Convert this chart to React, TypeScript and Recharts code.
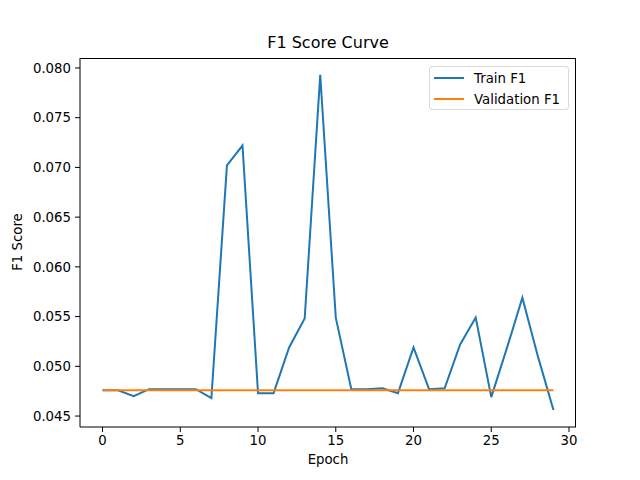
import { LineChart, Line, XAxis, YAxis } from "recharts";

const epochs = Array.from({ length: 30 }, (_, i) => i);

const trainF1 = [
  0.0476, 0.0476, 0.0470, 0.0477, 0.0477, 0.0477, 0.0477, 0.0468, 0.0702, 0.0722,
  0.0473, 0.0473, 0.0519, 0.0548, 0.0793, 0.0549, 0.0477, 0.0477, 0.0478, 0.0473,
  0.0519, 0.0477, 0.0478, 0.0522, 0.0549, 0.0469, 0.0518, 0.0569, 0.0510, 0.0456,
];

const valF1 = Array(30).fill(0.0476);

const xTicks = [0, 5, 10, 15, 20, 25, 30];
const yTicks = [0.045, 0.05, 0.055, 0.06, 0.065, 0.07, 0.075, 0.08];

const data = epochs.map((e, i) => ({ epoch: e, train: trainF1[i], val: valF1[i] }));

const FONT = "'DejaVu Sans', sans-serif";
const tickStyle = { fill: "#000", fontSize: 13.3, fontFamily: FONT };

export default function App() {
  document.body.style.margin = "0";
  return (
    <div style={{ position: "relative", width: 640, height: 480, background: "#fff", fontFamily: FONT }}>
      <LineChart
        width={640}
        height={480}
        data={data}
        margin={{ top: 58, right: 64, bottom: 23, left: 8 }}
      >
        <XAxis
          dataKey="epoch"
          type="number"
          domain={[-1.45, 30.45]}
          ticks={xTicks}
          allowDataOverflow
          height={30}
          tick={tickStyle}
          tickSize={5}
          tickMargin={4}
          axisLine={{ stroke: "#000" }}
          tickLine={{ stroke: "#000" }}
        />
        <YAxis
          type="number"
          domain={[0.0439, 0.081]}
          ticks={yTicks}
          allowDataOverflow
          width={72}
          tick={tickStyle}
          tickSize={5}
          tickMargin={4}
          tickFormatter={(v: number) => v.toFixed(3)}
          axisLine={{ stroke: "#000" }}
          tickLine={{ stroke: "#000" }}
        />
        <Line
          dataKey="train"
          stroke="#1f77b4"
          strokeWidth={2}
          dot={false}
          isAnimationActive={false}
        />
        <Line
          dataKey="val"
          stroke="#ff7f0e"
          strokeWidth={2}
          dot={false}
          isAnimationActive={false}
        />
      </LineChart>

      {/* axes frame (top and right spines) */}
      <div
        style={{
          position: "absolute",
          left: 80,
          top: 58,
          width: 496,
          height: 369,
          boxSizing: "border-box",
          borderTop: "1px solid #000",
          borderRight: "1px solid #000",
          pointerEvents: "none",
        }}
      />

      <div style={{ position: "absolute", left: 0, width: 656, top: 33, textAlign: "center", fontSize: 16 }}>
        F1 Score Curve
      </div>
      <div style={{ position: "absolute", left: 80, width: 496, top: 452, textAlign: "center", fontSize: 13.3 }}>
        Epoch
      </div>
      <div
        style={{
          position: "absolute",
          left: 17,
          top: 242,
          fontSize: 13.3,
          transform: "translate(-50%, -50%) rotate(-90deg)",
          whiteSpace: "nowrap",
        }}
      >
        F1 Score
      </div>

      <div
        style={{
          position: "absolute",
          left: 429,
          top: 66,
          width: 140,
          height: 44,
          boxSizing: "border-box",
          border: "1px solid #d9d9d9",
          borderRadius: 3,
          background: "rgba(255,255,255,0.8)",
          fontSize: 13.3,
        }}
      >
        {[
          { label: "Train F1", color: "#1f77b4" },
          { label: "Validation F1", color: "#ff7f0e" },
        ].map((item, i) => (
          <div
            key={item.label}
            style={{ position: "absolute", left: 4, top: 2 + i * 21, height: 18, display: "flex", alignItems: "center" }}
          >
            <div style={{ width: 30, height: 2, background: item.color, marginRight: 10 }} />
            <span>{item.label}</span>
          </div>
        ))}
      </div>
    </div>
  );
}
